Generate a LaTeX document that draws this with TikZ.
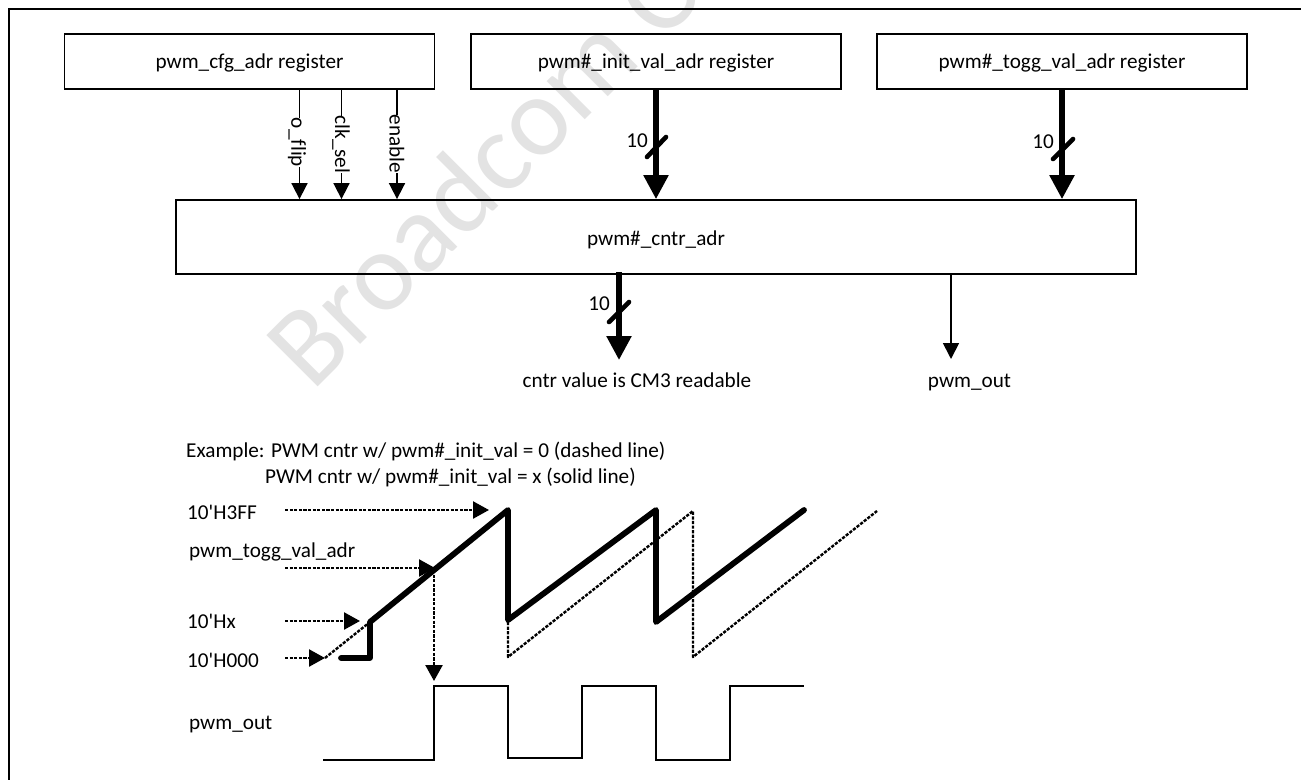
\documentclass[tikz,border=0pt]{standalone}
\usepackage{fontspec}
\newfontfamily\carl{Carlito}
\usetikzlibrary{arrows.meta}
\tikzset{
  x=1pt,y=-1pt,
  box/.style={draw=black,line width=1.8pt,inner sep=0pt,minimum height=55pt,minimum width=370pt},
  lbl/.style={inner sep=0pt,anchor=base,font=\carl\fontsize{21.2}{25}\selectfont},
  lblw/.style={lbl,anchor=base west},
  vlbl/.style={inner sep=0pt,fill=white,rotate=-90,font=\carl\fontsize{21.2}{25}\selectfont},
  thin arrow/.style={draw=black,line width=1.7pt,-{Triangle[length=16pt,width=16pt]}},
  bus arrow/.style={draw=black,line width=5.4pt,-{Triangle[length=24pt,width=24pt]}},
  slash/.style={draw=black,line width=4.6pt,line cap=round},
  dash arrow/.style={draw=black,line width=2.4pt,dash pattern=on 3.2pt off 1.4pt,-{Triangle[length=16pt,width=17pt]}},
  dash line/.style={draw=black,line width=2.4pt,dash pattern=on 3.2pt off 1.4pt},
  saw/.style={draw=black,line width=5.8pt,line cap=round,line join=round},
  wave/.style={draw=black,line width=1.8pt,line join=miter},
}
\begin{document}
\begin{tikzpicture}
\useasboundingbox (0,0) rectangle (1301,779);
% watermark
\begin{scope}
\clip (0,0) rectangle (1301,779);
\node[inner sep=0pt,anchor=base west,rotate=45,text=black!11,font=\carl\fontsize{113}{123}\selectfont] (wm) at (312,393) {Broadcom C};
\end{scope}
% frame
\draw[line width=2.4pt,line cap=rect] (1301,9) -- (9,9) -- (9,779);
% boxes
\node[box] (cfg) at (249.5,61.5) {};
\node[box] (init) at (656,61.5) {};
\node[box] (togg) at (1062,61.5) {};
\node[box,minimum width=960pt,minimum height=74pt] (cntr) at (656,237) {};
\node[lbl] (cfgt) at (249.5,68) {pwm\_cfg\_adr register};
\node[lbl] (initt) at (656,68) {pwm\#\_init\_val\_adr register};
\node[lbl] (toggt) at (1062,68) {pwm\#\_togg\_val\_adr register};
\node[lbl] (cntrt) at (656,245) {pwm\#\_cntr\_adr};
% control arrows
\coordinate (c1) at (299.5,89);
\coordinate (c2) at (341.5,89);
\coordinate (c3) at (397,89);
\coordinate (c4) at (951,274);
\draw[thin arrow] (c1) -- (cntr.north -| c1);
\draw[thin arrow] (c2) -- (cntr.north -| c2);
\draw[thin arrow] (c3) -- (cntr.north -| c3);
\node[vlbl] (oflip) at (297,142.5) {o\_f\kern0ptlip};
\node[vlbl] (clksel) at (341,144.5) {clk\_sel};
\node[vlbl] (enable) at (397,144) {enable};
% bus arrows
\coordinate (b1) at (656,88);
\coordinate (b2) at (1062,88);
\coordinate (b3) at (619,272);
\coordinate (b3e) at (619,360);
\draw[bus arrow] (b1) -- (cntr.north -| b1);
\draw[bus arrow] (b2) -- (cntr.north -| b2);
\draw[bus arrow] (b3) -- (b3e);
\draw[slash] (647,157) -- (666,137);
\draw[slash] (1053,159) -- (1073,139);
\draw[slash] (609,322) -- (629,302);
\node[lbl] (n1) at (637,147) {10};
\node[lbl] (n2) at (1043,148) {10};
\node[lbl] (n3) at (599,310) {10};
% output
\coordinate (oe) at (951,359);
\draw[thin arrow] (c4) -- (oe);
\node[lbl] (cv) at (637,387) {cntr value is CM3 readable};
\node[lbl] (po) at (969.5,387) {pwm\_out};
% example text
\node[lblw] (ex1) at (186,457) {Example: PWM cntr w/ pwm\#\_init\_val = 0 (dashed line)};
\node[lbl,anchor=base east] (ex2) at (636,483) {PWM cntr w/ pwm\#\_init\_val = x (solid line)};
% level labels
\node[lblw] (l1) at (187,519) {10'H3FF};
\node[lblw] (l2) at (189,557) {pwm\_togg\_val\_adr};
\node[lblw] (l3) at (187,628) {10'Hx};
\node[lblw] (l4) at (187,667) {10'H000};
\node[lblw] (l5) at (189,729) {pwm\_out};
% dashed saw
\draw[dash line,line join=round] (325,658) -- (370,622);
\draw[dash line,line join=round] (508,622) -- (508,657) -- (693,511) -- (693,657) -- (877,511);
% solid saw
\draw[saw] (341,658) -- (370,658) -- (370,622) -- (508,510) -- (508,620) -- (656,510) -- (656,622) -- (804,510);
% dashed arrows
\coordinate (s1) at (285,510); \coordinate (e1) at (489,510);
\coordinate (s2) at (285,568); \coordinate (e2) at (435,568);
\coordinate (s3) at (285,621); \coordinate (e3) at (360,621);
\coordinate (s4) at (285,658); \coordinate (e4) at (325,658);
\coordinate (s5) at (434,570); \coordinate (e5) at (434,681);
\draw[dash arrow] (s1) -- (e1);
\draw[dash arrow] (s2) -- (e2);
\draw[dash arrow] (s3) -- (e3);
\draw[dash arrow] (s4) -- (e4);
\draw[dash arrow] (s5) -- (e5);
% pwm_out wave
\draw[wave] (323,760) -- (434,760) -- (434,686) -- (508,686) -- (508,758) -- (582,758) -- (582,686) -- (656,686) -- (656,760) -- (730,760) -- (730,686) -- (804,686);
\end{tikzpicture}
\end{document}
